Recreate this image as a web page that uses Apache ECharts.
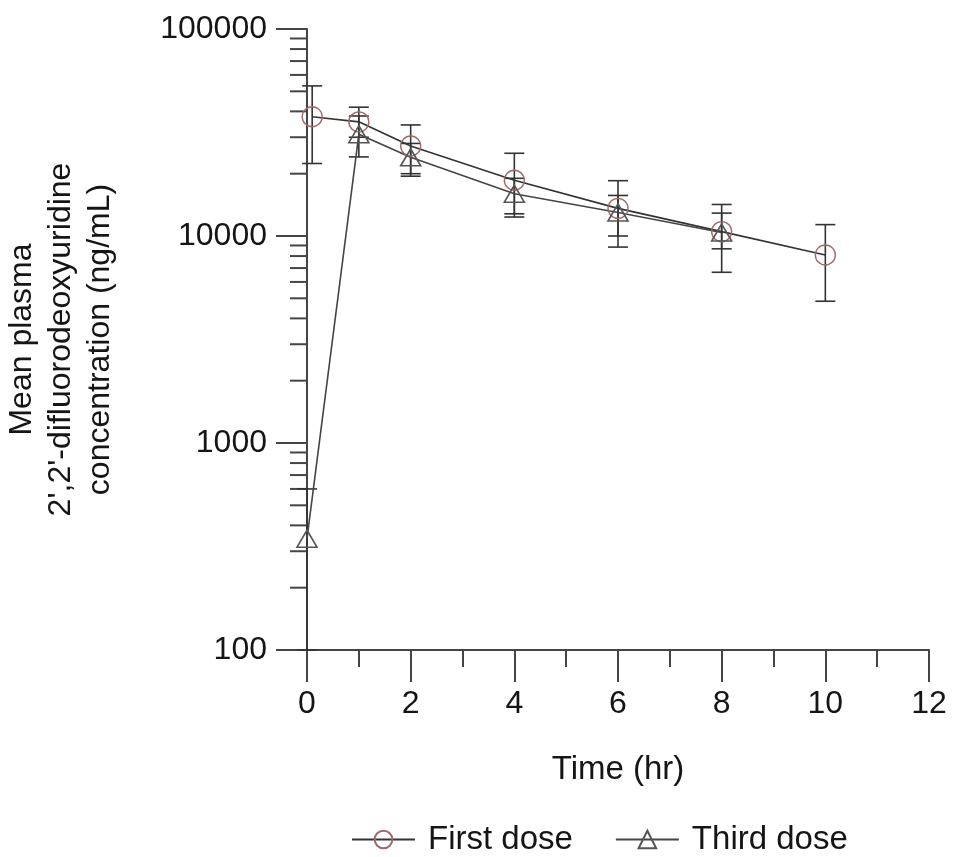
<!DOCTYPE html>
<html>
<head>
<meta charset="utf-8">
<script src="https://cdn.jsdelivr.net/npm/echarts@6/dist/echarts.min.js"></script>
<style>html,body{margin:0;padding:0;background:#fff;}#c{width:953px;height:857px;}</style>
</head>
<body>
<div id="c"></div>
<script>
// Data (time in hr, mean concentration in ng/mL, error bar low/high)
var firstTime  = [0.1, 1, 2, 4, 6, 8, 10];
var firstMean  = [37700, 35600, 27200, 18600, 13600, 10500, 8100];
var firstLow   = [22400, 30000, 20000, 12800, 8840, 6680, 4840];
var firstHigh  = [53100, 41900, 34400, 25100, 18500, 14200, 11350];

var thirdTime  = [0, 1, 2, 4, 6, 8];
var thirdMean  = [345, 31000, 24000, 16000, 13000, 10400];
var thirdLow   = [100, 24100, 19450, 12350, 10000, 8670];
var thirdHigh  = [600, 38000, 28000, 19000, 15700, 12900];

var yMajorTicks = [100, 1000, 10000, 100000];
var yTickLabels = ['100', '1000', '10000', '100000'];
var xTickLabels = ['0', '2', '4', '6', '8', '10', '12'];

var seriesNames = ['First dose', 'Third dose'];

function zip2(a, b) { return a.map(function (v, i) { return [v, b[i]]; }); }
function zip3(a, b, c) { return a.map(function (v, i) { return [v, b[i], c[i]]; }); }

var yMinorTicks = [];
for (var d = 0; d < yMajorTicks.length - 1; d++) {
  for (var m = 2; m <= 9; m++) yMinorTicks.push(yMajorTicks[d] * m);
}

var FONT = 'Liberation Sans, Arial, sans-serif';
var TXT = '#151515';
var AX = '#454545';

function errRender(params, api) {
  var x = api.value(0);
  var lo = api.coord([x, api.value(1)]);
  var hi = api.coord([x, api.value(2)]);
  var w = 10;
  var st = { stroke: '#333', lineWidth: 1.6 };
  return {
    type: 'group',
    children: [
      { type: 'line', shape: { x1: lo[0], y1: lo[1], x2: hi[0], y2: hi[1] }, style: st },
      { type: 'line', shape: { x1: lo[0] - w, y1: lo[1], x2: lo[0] + w, y2: lo[1] }, style: st },
      { type: 'line', shape: { x1: hi[0] - w, y1: hi[1], x2: hi[0] + w, y2: hi[1] }, style: st }
    ]
  };
}

function minorRender(params, api) {
  var p = api.coord([0, api.value(0)]);
  return { type: 'line', shape: { x1: p[0] - 17, y1: p[1], x2: p[0], y2: p[1] }, style: { stroke: AX, lineWidth: 2 } };
}

var chart = echarts.init(document.getElementById('c'), null, { renderer: 'canvas' });
chart.setOption({
  animation: false,
  backgroundColor: '#fff',
  textStyle: { fontFamily: FONT },
  grid: { left: 307, right: 24, top: 29, bottom: 207, containLabel: false, outerBoundsMode: 'none' },
  legend: {
    left: 346, top: 818,
    itemWidth: 63, itemHeight: 22, itemGap: 42,
    textStyle: { fontSize: 33, color: TXT, fontFamily: FONT, padding: [0, 0, 0, 8] },
    data: seriesNames
  },
  xAxis: {
    type: 'value', min: 0, max: 12, interval: 2,
    name: 'Time (hr)', nameLocation: 'middle', nameGap: 103,
    nameTextStyle: { fontSize: 33, color: TXT, fontFamily: FONT },
    axisLine: { show: true, onZero: false, lineStyle: { color: AX, width: 2 } },
    axisTick: { show: true, inside: false, length: 32, lineStyle: { color: AX, width: 2 } },
    minorTick: { show: true, splitNumber: 2, length: 17, lineStyle: { color: AX, width: 2 } },
    axisLabel: { fontSize: 32, color: TXT, margin: 38, fontFamily: FONT,
      formatter: function (v) { var i = Math.round(v / 2); return xTickLabels[i] !== undefined ? xTickLabels[i] : ''; } },
    splitLine: { show: false }
  },
  yAxis: {
    type: 'log', logBase: 10, min: 100, max: 100000,
    name: 'Mean plasma\n2\',2\'-difluorodeoxyuridine\nconcentration (ng/mL)',
    nameLocation: 'middle', nameGap: 187, nameRotate: 90,
    nameTextStyle: { fontSize: 32, color: TXT, lineHeight: 39, fontFamily: FONT },
    axisLine: { show: true, onZero: false, lineStyle: { color: AX, width: 2 } },
    axisTick: { show: true, inside: false, length: 31, lineStyle: { color: AX, width: 2 } },
    axisLabel: { fontSize: 32, color: TXT, margin: 40, fontFamily: FONT,
      formatter: function (v) { var i = yMajorTicks.indexOf(Math.round(v)); return i >= 0 ? yTickLabels[i] : ''; } },
    splitLine: { show: false }
  },
  series: [
    {
      name: 'minor', type: 'custom', silent: true, clip: false, z: 1,
      renderItem: minorRender, data: yMinorTicks.map(function (v) { return [v]; }),
      encode: { y: 0 }
    },
    {
      name: 'errFirst', type: 'custom', silent: true, clip: false, z: 2,
      renderItem: errRender, data: zip3(firstTime, firstLow, firstHigh),
      encode: { x: 0, y: [1, 2] }
    },
    {
      name: 'errThird', type: 'custom', silent: true, clip: false, z: 2,
      renderItem: errRender, data: zip3(thirdTime, thirdLow, thirdHigh),
      encode: { x: 0, y: [1, 2] }
    },
    {
      name: seriesNames[0], type: 'line', z: 3,
      data: zip2(firstTime, firstMean),
      symbol: 'circle', symbolSize: 20, showSymbol: true,
      lineStyle: { color: '#333', width: 1.6 },
      itemStyle: { color: 'none', borderColor: '#a06a6a', borderWidth: 1.4 }
    },
    {
      name: seriesNames[1], type: 'line', z: 3,
      data: zip2(thirdTime, thirdMean),
      symbol: 'triangle', symbolSize: [20, 17], showSymbol: true,
      lineStyle: { color: '#444', width: 1.6 },
      itemStyle: { color: 'none', borderColor: '#555', borderWidth: 1.6 }
    }
  ]
});
</script>
</body>
</html>
